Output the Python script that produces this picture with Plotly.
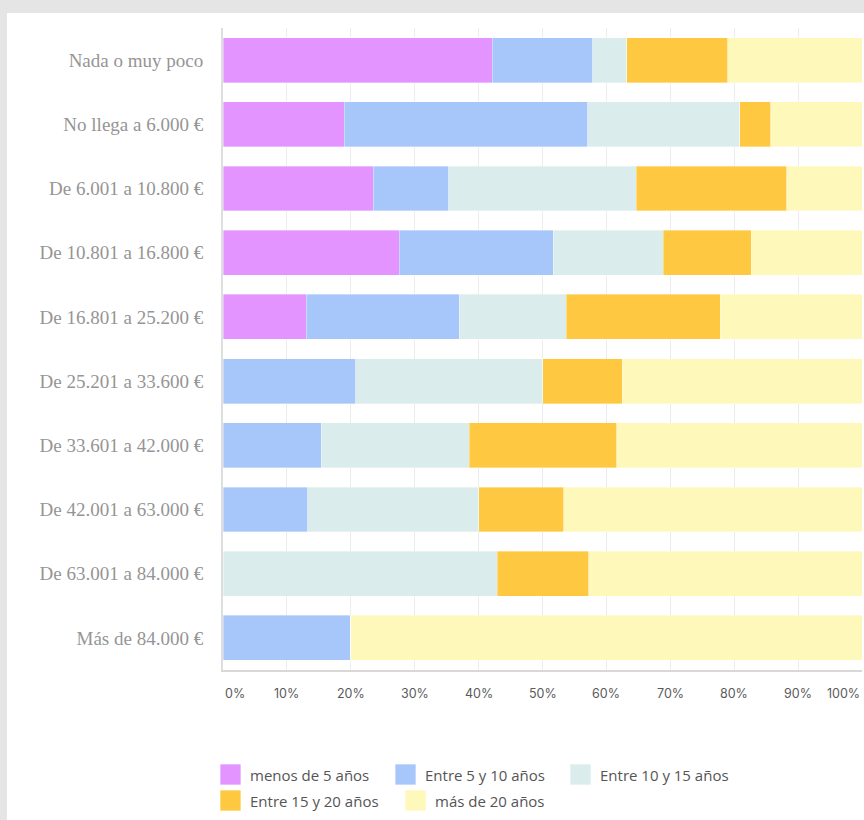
import plotly.graph_objects as go

categories = [
    "Nada o muy poco",
    "No llega a 6.000 €",
    "De 6.001 a 10.800 €",
    "De 10.801 a 16.800 €",
    "De 16.801 a 25.200 €",
    "De 25.201 a 33.600 €",
    "De 33.601 a 42.000 €",
    "De 42.001 a 63.000 €",
    "De 63.001 a 84.000 €",
    "Más de 84.000 €",
]
series_names = ["menos de 5 años", "Entre 5 y 10 años", "Entre 10 y 15 años",
                "Entre 15 y 20 años", "más de 20 años"]
menos_5 = [42.1, 19.0, 23.5, 27.6, 13.0, 0, 0, 0, 0, 0]
entre_5_10 = [15.8, 38.1, 11.8, 24.1, 24.0, 20.8, 15.4, 13.3, 0, 20.0]
entre_10_15 = [5.3, 23.8, 29.4, 17.2, 16.7, 29.2, 23.1, 26.7, 42.9, 0]
entre_15_20 = [15.8, 4.8, 23.5, 13.8, 24.1, 12.5, 23.1, 13.3, 14.3, 0]
mas_20 = [21.0, 14.3, 11.8, 17.3, 22.2, 37.5, 38.4, 46.7, 42.8, 80.0]
series_values = [menos_5, entre_5_10, entre_10_15, entre_15_20, mas_20]
colors = ["#E394FE", "#A7C7FB", "#DAECEB", "#FEC940", "#FEF9BA"]
tick_values = [0, 10, 20, 30, 40, 50, 60, 70, 80, 90, 100]
tick_labels = ["0%", "10%", "20%", "30%", "40%", "50%", "60%", "70%", "80%", "90%", "100%"]

W, H = 864, 820
ML, MR, MT, MB = 223, 2, 28, 150
PW = W - ML - MR
PH = H - MT - MB


def px_x(p):
    return (p - ML) / PW


def px_y(p):
    return (H - MB - p) / PH


fig = go.Figure()
for name, vals, col in zip(series_names, series_values, colors):
    fig.add_trace(go.Bar(
        y=categories, x=vals, name=name, orientation="h",
        marker=dict(color=col, line=dict(width=0.6, color="rgba(255,255,255,0.6)")),
        showlegend=False,
    ))

shapes = [
    dict(type="rect", xref="paper", yref="paper", x0=px_x(7), x1=px_x(870),
         y0=px_y(825), y1=px_y(13), fillcolor="white", line=dict(width=0), layer="below"),
]
annotations = []
# tick labels
for v, t in zip(tick_values, tick_labels):
    anchor = "left" if v == tick_values[0] else ("right" if v == tick_values[-1] else "center")
    annotations.append(dict(x=v, xref="x", y=px_y(693), yref="paper", text=t,
                            showarrow=False, xanchor=anchor, yanchor="middle",
                            font=dict(family="Inter", size=12.5, color="#5a5a5a")))

# legend
legend_pos = [(220, 764), (395, 764), (570, 764), (220, 790), (405, 790)]
for (lx, ly), name, col in zip(legend_pos, series_names, colors):
    shapes.append(dict(type="rect", xref="paper", yref="paper",
                       x0=px_x(lx), x1=px_x(lx + 21), y0=px_y(ly + 21), y1=px_y(ly),
                       fillcolor=col, line=dict(width=1, color="rgba(255,255,255,0.7)")))
    annotations.append(dict(x=px_x(lx + 28), xref="paper", y=px_y(ly + 11), yref="paper",
                            text=name, showarrow=False, xanchor="left", yanchor="middle",
                            font=dict(family="Open Sans", size=15, color="#555555")))

fig.update_layout(
    width=W, height=H,
    margin=dict(l=ML, r=MR, t=MT, b=MB, autoexpand=False),
    paper_bgcolor="#e5e5e5",
    plot_bgcolor="white",
    barmode="stack",
    bargap=0.3,
    shapes=shapes,
    annotations=annotations,
    showlegend=False,
    xaxis=dict(range=[0, 100], tickvals=tick_values, showticklabels=False,
               showgrid=True, gridcolor="#ececec", gridwidth=1, zeroline=False,
               showline=True, linecolor="#d8d8d8", linewidth=1.5, ticks="", fixedrange=True),
    yaxis=dict(autorange="reversed", showgrid=False, zeroline=False,
               showline=True, linecolor="#dedede", linewidth=2, ticks="",
               ticklabelstandoff=14,
               tickfont=dict(family="Liberation Serif", size=19, color="#959595")),
)

fig.write_html("out.html",
               config={"displayModeBar": False},
               post_script="document.body.style.margin='0';document.body.style.padding='0';"
                           "document.body.style.background='#e5e5e5';")
